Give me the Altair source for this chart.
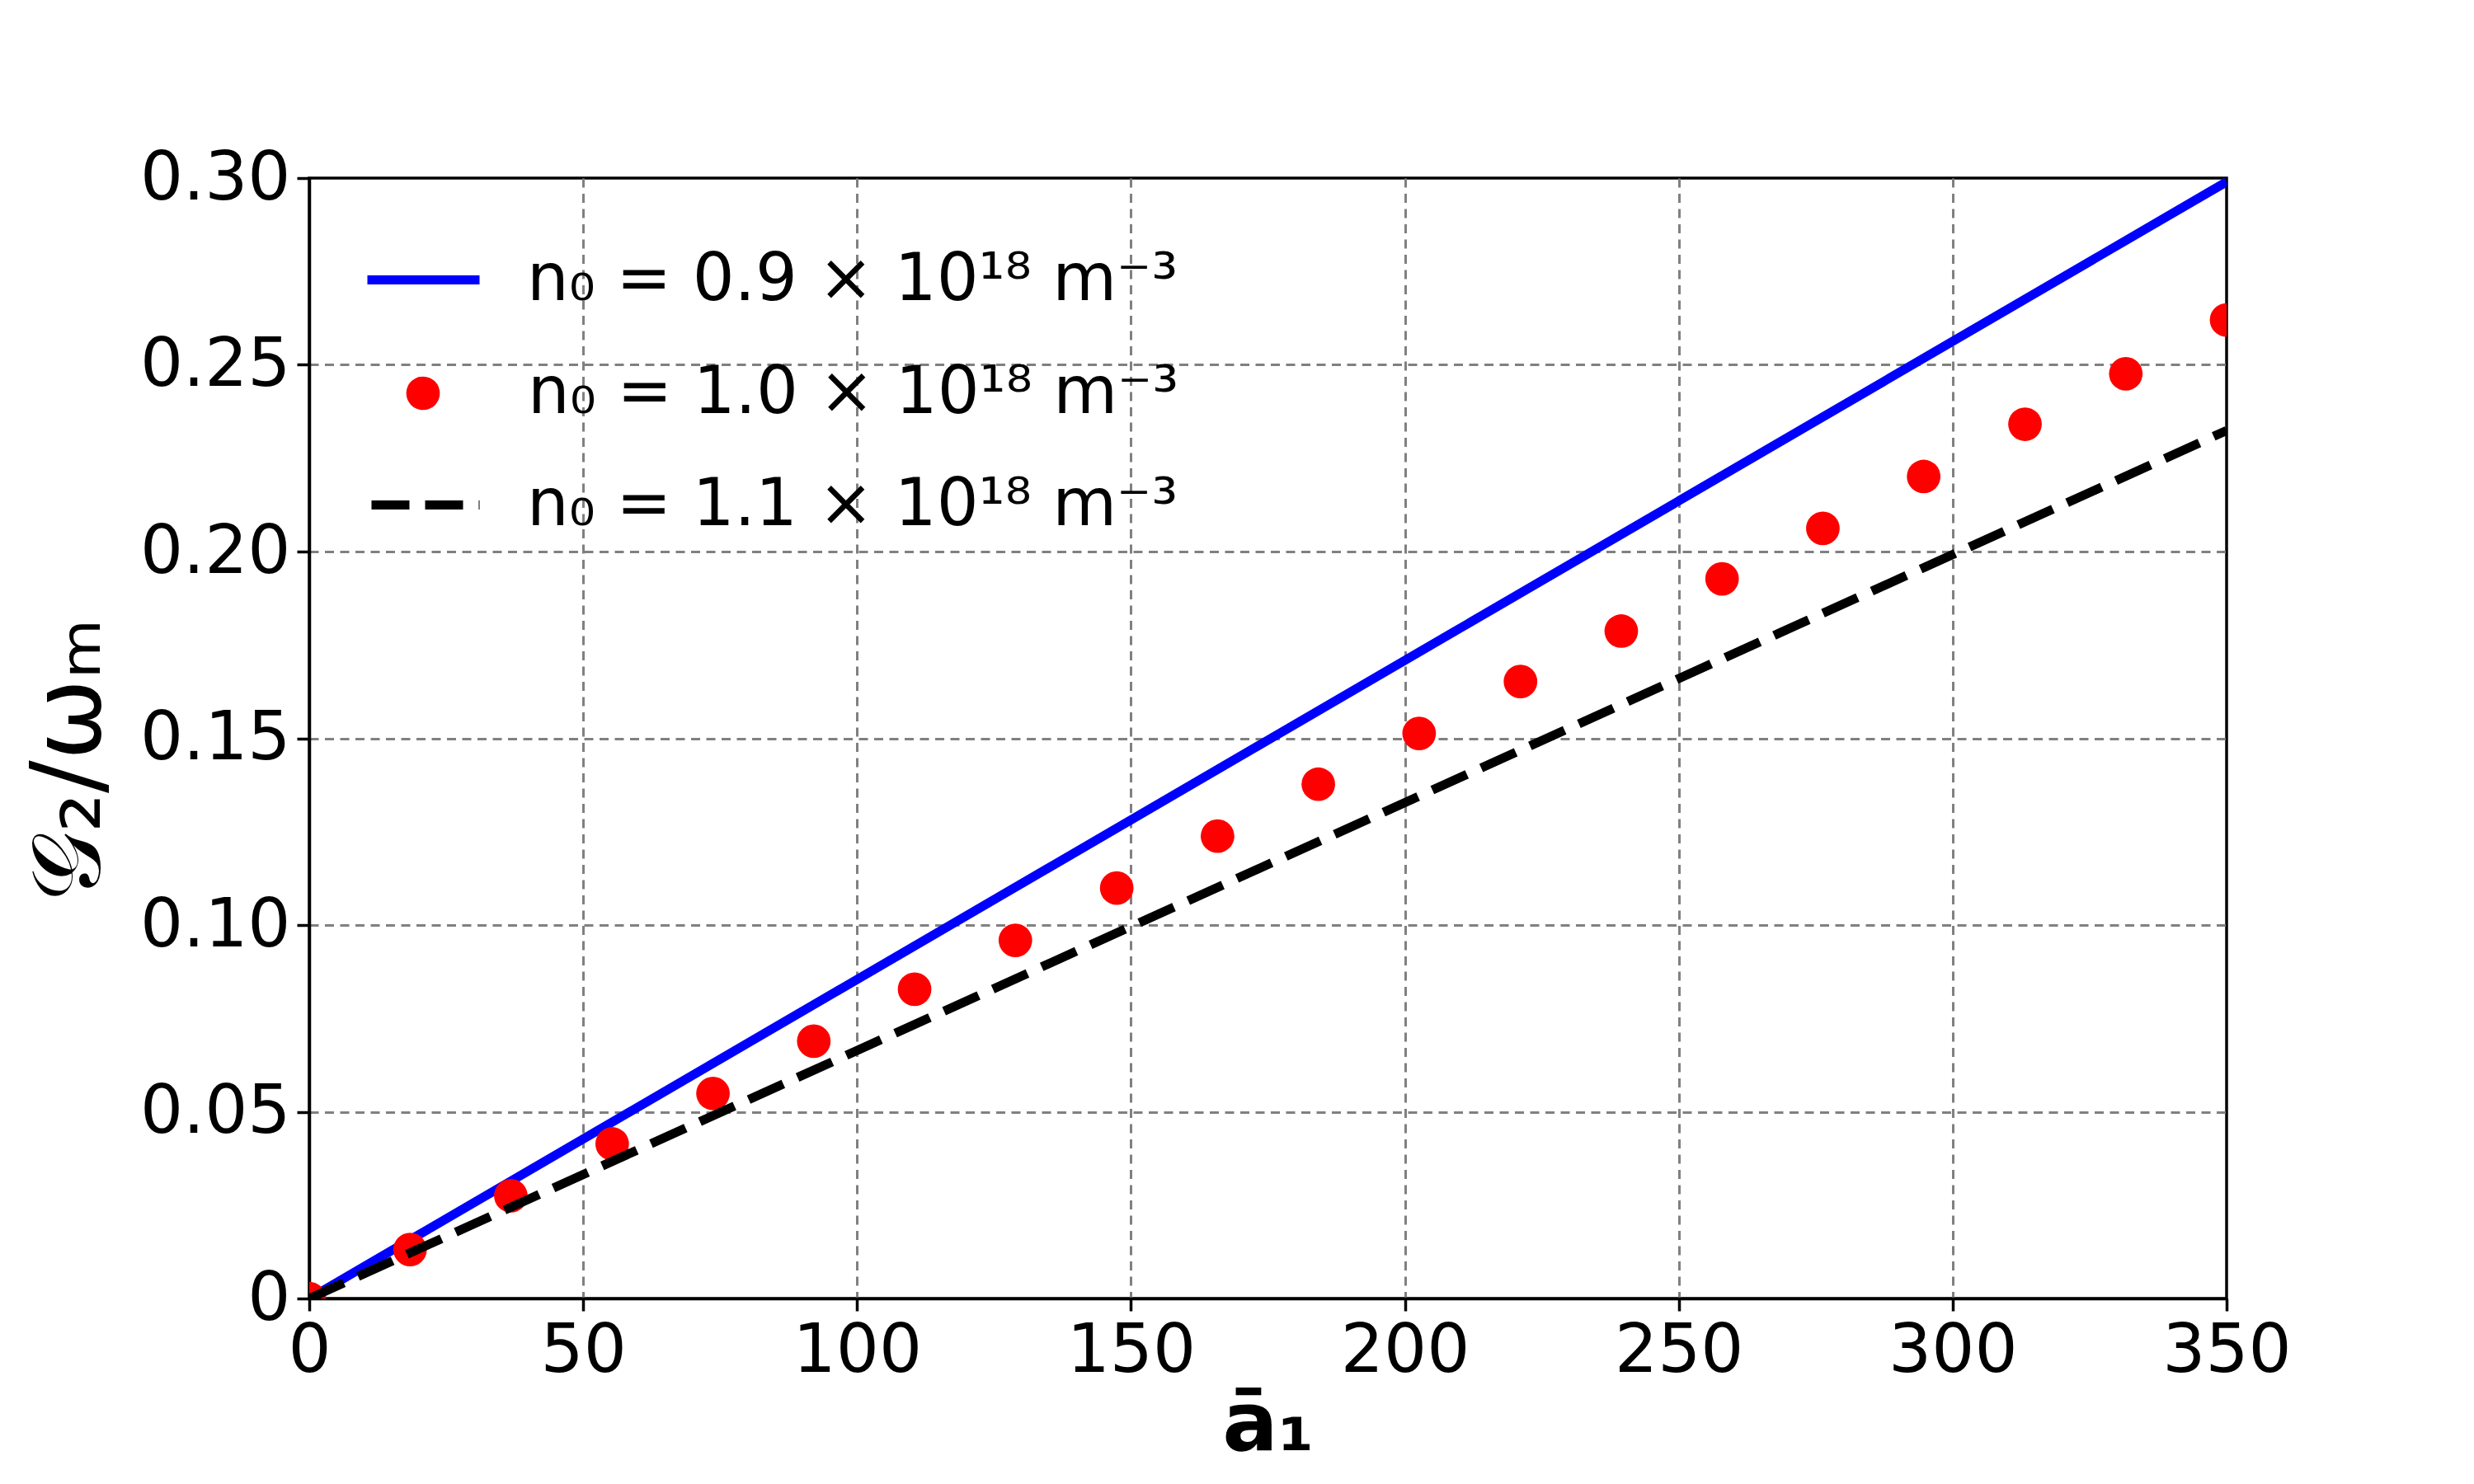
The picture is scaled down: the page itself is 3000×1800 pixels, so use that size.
import altair as alt
import pandas as pd

# --- data ---
a_pts = [0, 18.4, 36.8, 55.3, 73.7, 92.1, 110.5, 128.9, 147.4, 165.8,
         184.2, 202.6, 221.1, 239.5, 257.9, 276.3, 294.7, 313.2, 331.6, 350]
g_pts = [0, 0.0131, 0.0275, 0.0414, 0.0549, 0.0689, 0.0828, 0.0959, 0.1099, 0.1238,
         0.1377, 0.1513, 0.1652, 0.1787, 0.1927, 0.2062, 0.2201, 0.2341, 0.2476, 0.2620]

a_line = [0, 350]
g_blue = [0, 0.299]
g_black = [0, 0.2324]

lab_blue = "n₀ = 0.9 × 10¹⁸ m⁻³"
lab_red = "n₀ = 1.0 × 10¹⁸ m⁻³"
lab_black = "n₀ = 1.1 × 10¹⁸ m⁻³"

x_ticks = [0, 50, 100, 150, 200, 250, 300, 350]
y_ticks = [0, 0.05, 0.10, 0.15, 0.20, 0.25, 0.30]

df_blue = pd.DataFrame({"a": a_line, "g": g_blue, "s": lab_blue})
df_red = pd.DataFrame({"a": a_pts, "g": g_pts, "s": lab_red})
df_black = pd.DataFrame({"a": a_line, "g": g_black, "s": lab_black})

FONT = "DejaVu Sans"

xenc = alt.X("a:Q", scale=alt.Scale(domain=[0, 350], nice=False, zero=False),
             axis=alt.Axis(values=x_ticks, title="ā₁", titleFontWeight="bold",
                           titleFontSize=100, titlePadding=0, labelFlush=False,
                           labelOverlap=False, format="d",
                           gridOpacity={"condition": {"test": "datum.value >= 350 || datum.value <= 0", "value": 0}, "value": 1}))
yenc = alt.Y("g:Q", scale=alt.Scale(domain=[0, 0.30], nice=False, zero=False),
             axis=alt.Axis(values=y_ticks, title="𝒢₂/ωₘ", titleFontSize=118,
                           titleFontWeight="normal", titlePadding=30, titleY=705,
                           labelExpr="datum.value == 0 ? '0' : format(datum.value, '.2f')",
                           labelOverlap=False, labelFlush=False,
                           gridOpacity={"condition": {"test": "datum.value >= 0.299 || datum.value <= 0", "value": 0}, "value": 1}))

LINE_LEN = 136
LW = 11

blue = alt.Chart(df_blue).mark_line(strokeWidth=LW, clip=True).encode(
    x=xenc, y=yenc,
    color=alt.Color("s:N", scale=alt.Scale(domain=[lab_blue], range=["#0000ff"]),
                    legend=alt.Legend(title=None, orient="none", legendX=65, legendY=50,
                                      symbolType="stroke", symbolSize=LINE_LEN ** 2,
                                      symbolStrokeWidth=LW, labelOffset=52, padding=0,
                                      labelFontSize=80, labelFont=FONT, labelColor="black",
                                      labelLimit=2000)),
)

red = alt.Chart(df_red).mark_circle(size=1660, opacity=1, clip=True).encode(
    x=xenc, y=yenc,
    fill=alt.Fill("s:N", scale=alt.Scale(domain=[lab_red], range=["#ff0000"]),
                  legend=alt.Legend(title=None, orient="none", legendX=98, legendY=221,
                                    symbolType="circle", symbolSize=1660,
                                    symbolStrokeWidth=0, symbolOpacity=1,
                                    labelOffset=87, padding=0,
                                    labelFontSize=80, labelFont=FONT, labelColor="black",
                                    labelLimit=2000)),
)

black = alt.Chart(df_black).mark_line(strokeWidth=LW, color="black", clip=True).encode(
    x=xenc, y=yenc,
    strokeDash=alt.StrokeDash("s:N", scale=alt.Scale(domain=[lab_black], range=[[46, 19]]),
                              legend=alt.Legend(title=None, orient="none", legendX=65, legendY=323,
                                                symbolType="stroke", symbolSize=LINE_LEN ** 2,
                                                symbolStrokeWidth=LW, symbolStrokeColor="black",
                                                symbolDashOffset=60,
                                                labelOffset=52, padding=0,
                                                labelFontSize=80, labelFont=FONT, labelColor="black",
                                                labelLimit=2000)),
)

chart = alt.layer(blue, red, black).resolve_scale(
    color="independent", fill="independent", strokeDash="independent"
).properties(
    width=2325, height=1359,
    background="white",
    autosize=alt.AutoSizeParams(type="none"),
    padding={"left": 367, "top": 208, "right": 292, "bottom": 217},
).configure_view(
    stroke="black", strokeWidth=3.5
).configure_axis(
    labelFont=FONT, titleFont=FONT, labelFontSize=82, labelColor="black",
    titleColor="black", tickSize=15, tickWidth=3.5, tickColor="black",
    domainColor="black", domainWidth=3.5, labelPadding=8, labelLimit=1000,
    grid=True, gridColor="#808080", gridDash=[11, 7.5], gridWidth=3,
)

chart.save("out.html", embed_options={"renderer": "svg", "actions": False})
